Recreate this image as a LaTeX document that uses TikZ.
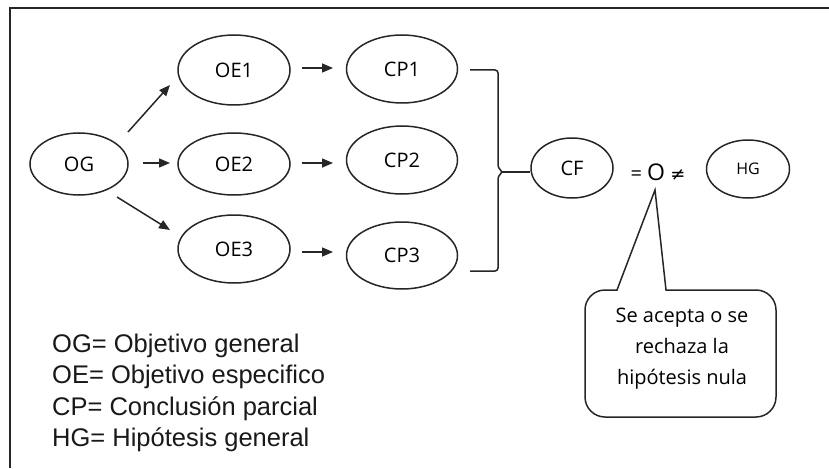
\documentclass[tikz,border=0pt]{standalone}
\usepackage{fontspec}
\setmainfont{Open Sans}
\newfontfamily\legendfont{Liberation Sans}
\newfontfamily\symfont{DejaVu Sans}
\usetikzlibrary{arrows.meta,shapes.geometric,calc}

\begin{document}
\begin{tikzpicture}[x=1pt,y=-1pt,
  line/.style={draw=black!85, line width=1.5pt},
  oval/.style={ellipse, line, inner sep=0pt, font=\fontsize{20}{24}\selectfont},
  flow/.style={line, -{Triangle[length=11pt,width=9pt]}},
  legendline/.style={anchor=base west, inner sep=0pt, font=\legendfont\fontsize{25.5}{30}\selectfont, text=black!90},
]
\useasboundingbox (0,0) rectangle (829,468);

% open frame: only the top and left edges are in view
\draw[line width=1.7pt, black!85] (10,468) -- (10,8) -- (829,8);

% objectives
\node[oval, minimum width=98pt, minimum height=62pt] (og)  at (79,164) {OG};
\node[oval, minimum width=112pt, minimum height=70pt] (oe1) at (234,70)  {OE1};
\node[oval, minimum width=112pt, minimum height=62pt] (oe2) at (234,164) {OE2};
\node[oval, minimum width=112pt, minimum height=68pt] (oe3) at (234,249) {OE3};

% partial conclusions
\node[oval, minimum width=111pt, minimum height=68pt] (cp1) at (402,69)  {CP1};
\node[oval, minimum width=111pt, minimum height=68pt] (cp2) at (402,160) {CP2};
\node[oval, minimum width=111pt, minimum height=67pt] (cp3) at (402,255.5) {CP3};

% final conclusion and hypothesis
\node[oval, minimum width=82pt, minimum height=60pt] (cf) at (572,168) {CF};
\node[oval, minimum width=83pt, minimum height=58pt, font=\fontsize{16}{19}\selectfont] (hg) at (748,169) {HG};
\node[inner sep=0pt, font=\fontsize{20}{24}\selectfont] (eq) at (658,172) {= {\fontsize{23}{24}\selectfont O} {\symfont\fontsize{18}{20}\selectfont ≠}};

% arrows from the general objective, kept clear of the ovals
\draw[flow] ($(og.center)+(49,-32)$) -- ($(oe1.center)+(-64,15)$);
\draw[flow] ($(og.center)+(64,-1)$)  -- ($(oe2.center)+(-64,-1)$);
\draw[flow] ($(og.center)+(38,33)$)  -- ($(oe3.center)+(-64,-19)$);

% arrows to the partial conclusions
\draw[flow] ($(oe1.center)+(68,-2)$) -- ($(cp1.center)+(-69,-1)$);
\draw[flow] ($(oe2.center)+(68,-1)$) -- ($(cp2.center)+(-69,3)$);
\draw[flow] ($(oe3.center)+(68,3)$)  -- ($(cp3.center)+(-69,-3.5)$);

% bracket joining the partial conclusions into CF
\coordinate (bt) at (470,70);
\coordinate (bb) at (470,271);
\coordinate (bm) at (498,172);
\draw[line, rounded corners=3pt] (bt) -- (498,70) -- (498,168) -- (503,172) -- (498,176) -- (498,271) -- (bb);
\draw[line, line width=2.2pt] ($(bm)+(3,0)$) -- (cf.west |- bm);

% speech bubble pointing to the O sign
\coordinate (tip) at (655,190);
\draw[line, fill=white] (tip) -- (666,290) -- (756,290)
  arc[start angle=-90, end angle=0, radius=20] -- (776,397)
  arc[start angle=0, end angle=90, radius=20] -- (605,417)
  arc[start angle=90, end angle=180, radius=20] -- (585,310)
  arc[start angle=180, end angle=270, radius=20] -- (617,290) -- cycle;
\node[align=center, inner sep=0pt, font=\fontsize{20}{31}\selectfont] (note) at (682,349)
  {Se acepta o se\\rechaza la\\hipótesis nula};

% legend
\node[legendline] (l1) at (52,352)   {OG= Objetivo general};
\node[legendline] (l2) at (52,383.5) {OE= Objetivo especifico};
\node[legendline] (l3) at (52,415)   {CP= Conclusión parcial};
\node[legendline] (l4) at (52,446.5) {HG= Hipótesis general};
\end{tikzpicture}
\end{document}
